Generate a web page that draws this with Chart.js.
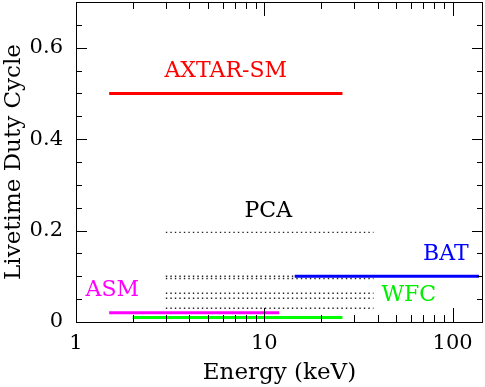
<!DOCTYPE html>
<html>
<head>
<meta charset="utf-8">
<script src="https://cdn.jsdelivr.net/npm/chart.js@4"></script>
<style>
  html, body { margin: 0; padding: 0; background: #fff; }
  #wrap { width: 485px; height: 387px; }
</style>
</head>
<body>
<div id="wrap"><canvas id="duty"></canvas></div>
<script>
// instruments drawn as solid bands: energy range (keV) vs livetime duty cycle
const instruments = ["AXTAR-SM", "ASM", "WFC", "BAT"];
const bandLow = [1.5, 1.5, 2, 14.5];
const bandHigh = [26, 12, 26, 138];
const dutyCycle = [0.5, 0.02, 0.01, 0.1];
const bandColors = ["#ff0000", "#ff00ff", "#00ff00", "#0000ff"];

// PCA rows (dotted)
const pcaBand = [3, 38];
const pcaDuty = [0.196, 0.1, 0.095, 0.063, 0.052, 0.03];

const xTicks = [1, 10, 100];
const yTicks = [0, 0.2, 0.4, 0.6];

// text labels, anchored in data space
const labelText = ["AXTAR-SM", "PCA", "BAT", "ASM", "WFC"];
const labelEnergy = [6.24, 10.5, 92, 1.56, 58.5];
const labelDuty = [0.548, 0.243, 0.148, 0.069, 0.059];
const labelColors = ["#ff0000", "#000000", "#0000ff", "#ff00ff", "#00ee00"];

Chart.defaults.font.family = "'DejaVu Serif', serif";
Chart.defaults.color = "#000";

const datasets = [];
instruments.forEach((name, i) => {
  datasets.push({
    label: name,
    data: [
      { x: bandLow[i], y: dutyCycle[i] },
      { x: bandHigh[i], y: dutyCycle[i] },
    ],
    borderColor: bandColors[i],
    borderWidth: 3,
    showLine: true,
    pointRadius: 0,
  });
});
pcaDuty.forEach((d) => {
  datasets.push({
    label: "PCA",
    data: [
      { x: pcaBand[0], y: d },
      { x: pcaBand[1], y: d },
    ],
    borderColor: "#222",
    borderWidth: 1.4,
    borderDash: [1.4, 3.1],
    showLine: true,
    pointRadius: 0,
  });
});

// box, inward ticks on all four sides, and labels
const framePlugin = {
  id: "frame",
  afterDatasetsDraw(chart) {
    const { ctx, chartArea: a, scales } = chart;
    const x = scales.x;
    const y = scales.y;
    ctx.save();
    ctx.strokeStyle = "#000";
    ctx.lineWidth = 1;

    // x ticks: decades major, 2..9 minor
    for (let dec = 1; dec <= 100; dec *= 10) {
      for (let m = 1; m <= 9; m++) {
        const v = dec * m;
        if (v > x.max) break;
        const px = Math.round(x.getPixelForValue(v)) + 0.5;
        const len = m === 1 ? 14 : 7;
        ctx.beginPath();
        ctx.moveTo(px, a.bottom);
        ctx.lineTo(px, a.bottom - len);
        ctx.moveTo(px, a.top);
        ctx.lineTo(px, a.top + len);
        ctx.stroke();
      }
    }
    // y ticks every 0.05, major every 0.2
    for (let k = 0; k <= 14; k++) {
      const v = k * 0.05;
      const py = Math.round(y.getPixelForValue(v)) + 0.5;
      const len = k % 4 === 0 ? 11 : 6;
      ctx.beginPath();
      ctx.moveTo(a.left, py);
      ctx.lineTo(a.left + len, py);
      ctx.moveTo(a.right, py);
      ctx.lineTo(a.right - len, py);
      ctx.stroke();
    }
    ctx.strokeRect(a.left + 0.5, a.top + 0.5, a.right - a.left - 1, a.bottom - a.top);

    ctx.font = "22px 'DejaVu Serif', serif";
    ctx.textAlign = "center";
    ctx.textBaseline = "middle";
    labelText.forEach((t, i) => {
      ctx.fillStyle = labelColors[i];
      ctx.fillText(t, x.getPixelForValue(labelEnergy[i]), y.getPixelForValue(labelDuty[i]));
    });
    ctx.restore();
  },
};

new Chart(document.getElementById("duty"), {
  type: "scatter",
  data: { datasets },
  options: {
    responsive: true,
    maintainAspectRatio: false,
    animation: false,
    layout: { padding: { top: 2, right: 2, left: 0, bottom: 0 } },
    plugins: { legend: { display: false }, tooltip: { enabled: false } },
    scales: {
      x: {
        type: "logarithmic",
        min: 1,
        max: 145,
        afterBuildTicks: (s) => {
          s.ticks = xTicks.map((v) => ({ value: v }));
        },
        afterFit: (s) => {
          s.height = 65;
          s.paddingLeft = 0;
          s.paddingRight = 0;
        },
        grid: { display: false, drawTicks: false },
        border: { display: false },
        ticks: {
          font: { size: 21 },
          padding: 9,
          maxRotation: 0,
          autoSkip: false,
          callback: (v) => String(v),
        },
        title: {
          display: true,
          text: "Energy (keV)",
          font: { size: 23 },
          padding: { top: 0, bottom: 0 },
        },
      },
      y: {
        min: 0,
        max: 0.7,
        afterBuildTicks: (s) => {
          s.ticks = yTicks.map((v) => ({ value: v }));
        },
        afterFit: (s) => {
          s.width = 76;
          s.paddingTop = 0;
          s.paddingBottom = 0;
        },
        grid: { display: false, drawTicks: false },
        border: { display: false },
        ticks: {
          font: { size: 21 },
          padding: 13,
          callback: (v) => String(v),
        },
        title: {
          display: true,
          text: "Livetime Duty Cycle",
          font: { size: 23 },
          padding: 0,
        },
      },
    },
  },
  plugins: [framePlugin],
});
</script>
</body>
</html>
